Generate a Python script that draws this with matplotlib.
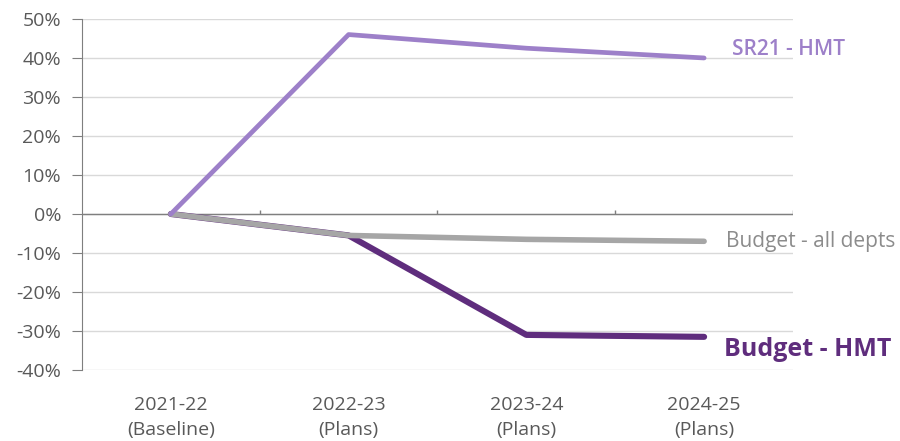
import matplotlib
matplotlib.use("Agg")
import matplotlib.pyplot as plt
from matplotlib.ticker import FuncFormatter

plt.rcParams['font.family'] = ['Open Sans', 'DejaVu Sans']

# data
years = ["2021-22\n(Baseline)", "2022-23\n(Plans)", "2023-24\n(Plans)", "2024-25\n(Plans)"]
sr21_hmt = [0, 46, 42.5, 40]
budget_all = [0, -5.5, -6.5, -7]
budget_hmt = [0, -5.5, -31, -31.5]

col_sr21 = "#9d80c9"
col_all = "#a6a6a6"
col_hmt = "#5f2d7d"

fig = plt.figure(figsize=(9, 4.41), dpi=100)
ax = fig.add_axes([0.0911, 0.161, 0.790, 0.796])

x = range(len(years))
ax.plot(x, budget_hmt, color=col_hmt, lw=4.4, solid_capstyle="round", zorder=3)
ax.plot(x, budget_all, color=col_all, lw=4.0, solid_capstyle="round", zorder=4)
ax.plot(x, sr21_hmt, color=col_sr21, lw=3.4, solid_capstyle="round", zorder=5)

ax.set_xlim(-0.5, 3.5)
ax.set_ylim(-40, 50)
ax.set_yticks(range(-40, 51, 10))
ax.yaxis.set_major_formatter(FuncFormatter(lambda v, p: f"{int(v)}%"))
ax.grid(axis="y", color="#d9d9d9", lw=1)
ax.set_axisbelow(True)

for s in ["top", "right", "bottom"]:
    ax.spines[s].set_visible(False)
ax.spines["left"].set_color("#7f7f7f")
ax.tick_params(axis="y", colors="#7f7f7f", labelcolor="#595959", labelsize=14, length=7, pad=8)
ax.set_xticks(list(x))
ax.set_xticklabels(years, color="#595959", fontsize=14, linespacing=1.45)
ax.tick_params(axis="x", length=0, pad=19)

# zero line with category ticks
ax.axhline(0, color="#7f7f7f", lw=1, zorder=2)
ax.vlines([0.5, 1.5, 2.5, 3.5], 0, 1.0, color="#7f7f7f", lw=1, zorder=2)

# series labels
ax.annotate("SR21 - HMT", xy=(3, sr21_hmt[-1]), xytext=(20, 6), textcoords="offset points",
            color=col_sr21, fontsize=15, fontweight="semibold", va="center")
ax.annotate("Budget - all depts", xy=(3, budget_all[-1]), xytext=(16, 0), textcoords="offset points",
            color="#8c8c8c", fontsize=15, va="center")
ax.annotate("Budget - HMT", xy=(3, budget_hmt[-1]), xytext=(14, -9), textcoords="offset points",
            color=col_hmt, fontsize=18, fontweight="bold", va="center")

fig.savefig("out.png", dpi=100)
